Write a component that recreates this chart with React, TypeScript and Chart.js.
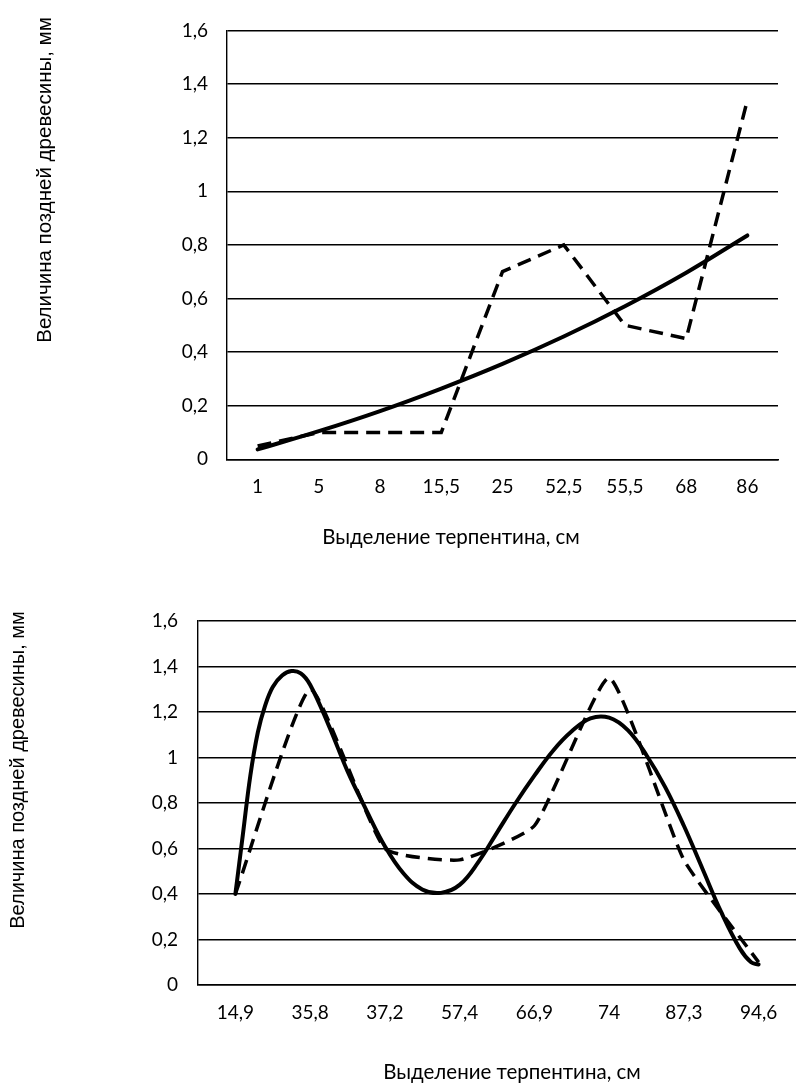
import React, { useEffect, useRef } from "react";
import { Chart, registerables } from "chart.js";

Chart.register(...registerables);

// ---------- data ----------
const topCategories = ["1", "5", "8", "15,5", "25", "52,5", "55,5", "68", "86"];
const topDashed = [0.05, 0.1, 0.1, 0.1, 0.7, 0.8, 0.5, 0.45, 1.34];
const topSolid = [0.037, 0.105, 0.18, 0.264, 0.356, 0.458, 0.571, 0.696, 0.835];

const bottomCategories = ["14,9", "35,8", "37,2", "57,4", "66,9", "74", "87,3", "94,6"];
const bottomDashed = [0.4, 1.3, 0.6, 0.55, 0.7, 1.35, 0.55, 0.1];
// solid curve sampled along the category axis (index positions)
const bottomSolidX = [0, 0.1, 0.2, 0.3, 0.4, 0.5, 0.625, 0.75, 0.875, 1, 1.25, 1.5, 1.75, 2, 2.25, 2.5, 2.75, 3, 3.25, 3.5, 3.75, 4, 4.25, 4.5, 4.75, 5, 5.25, 5.5, 5.75, 6, 6.25, 6.5, 6.75, 6.9, 7];
const bottomSolidY = [0.4, 0.66, 0.92, 1.11, 1.23, 1.31, 1.36, 1.38, 1.37, 1.32, 1.14, 0.94, 0.77, 0.61, 0.49, 0.42, 0.405, 0.44, 0.54, 0.67, 0.8, 0.92, 1.03, 1.115, 1.172, 1.175, 1.12, 1.01, 0.87, 0.7, 0.51, 0.32, 0.16, 0.1, 0.09];

const yTickValues = [0, 0.2, 0.4, 0.6, 0.8, 1, 1.2, 1.4, 1.6];

const yAxisTitle = "Величина поздней древесины, мм";
const xAxisTitle = "Выделение терпентина, см";

// ---------- helpers ----------
const fmt = (v: number) => String(Math.round(v * 10) / 10).replace(".", ",");
const TICK_FONT = { family: "Lato", size: 19 };

const freeTextPlugin = {
  id: "freeText",
  afterDraw(chart: any, _args: any, opts: any) {
    const ctx = chart.ctx as CanvasRenderingContext2D;
    (opts.items || []).forEach((t: any) => {
      ctx.save();
      ctx.translate(t.x, t.y);
      if (t.rotate) ctx.rotate(t.rotate);
      ctx.font = t.font;
      ctx.fillStyle = "#000";
      ctx.textAlign = "center";
      ctx.textBaseline = "middle";
      ctx.fillText(t.text, 0, 0);
      ctx.restore();
    });
  },
};

function yScale(width: number, padding: number) {
  return {
    min: 0,
    max: 1.6,
    afterBuildTicks: (s: any) => {
      s.ticks = yTickValues.map((v) => ({ value: v }));
    },
    afterFit: (s: any) => {
      s.width = width;
    },
    grid: { color: "#000", lineWidth: 1.4, drawTicks: false },
    border: { display: true, color: "#000", width: 1.4 },
    ticks: {
      padding,
      color: "#000",
      font: TICK_FONT,
      callback: (v: any) => fmt(Number(v)),
    },
  };
}

const DASH = [14, 8];

function TopChart() {
  const ref = useRef<HTMLCanvasElement | null>(null);
  useEffect(() => {
    if (!ref.current) return;
    const chart = new Chart(ref.current, {
      type: "line",
      data: {
        labels: topCategories,
        datasets: [
          {
            data: topDashed,
            borderColor: "#000",
            borderWidth: 3.5,
            borderDash: DASH,
            pointRadius: 0,
            tension: 0,
            fill: false,
          },
          {
            data: topSolid,
            borderColor: "#000",
            borderWidth: 4,
            pointRadius: 0,
            tension: 0.4,
            borderCapStyle: "round",
            borderJoinStyle: "round",
            fill: false,
          },
        ],
      },
      options: {
        animation: false,
        responsive: false,
        maintainAspectRatio: false,
        devicePixelRatio: 1,
        layout: { padding: { left: 0, right: 18, top: 29, bottom: 0 } },
        plugins: {
          legend: { display: false },
          tooltip: { enabled: false },
          freeText: {
            items: [
              { text: yAxisTitle, x: 45, y: 180, rotate: -Math.PI / 2, font: "20.5px 'Liberation Sans'" },
              { text: xAxisTitle, x: 451, y: 537, font: "20.5px Lato" },
            ],
          },
        } as any,
        scales: {
          x: {
            type: "category",
            offset: true,
            afterFit: (s: any) => {
              s.height = 100.7;
            },
            grid: { display: false, drawTicks: false },
            border: { display: true, color: "#000", width: 1.4 },
            ticks: { padding: 16, color: "#000", font: TICK_FONT, autoSkip: false, maxRotation: 0 },
          },
          y: yScale(227, 19) as any,
        },
      },
      plugins: [freeTextPlugin],
    });
    return () => chart.destroy();
  }, []);
  return <canvas ref={ref} width={796} height={560} style={{ position: "absolute", left: 0, top: 0, width: 796, height: 560 }} />;
}

function BottomChart() {
  const ref = useRef<HTMLCanvasElement | null>(null);
  useEffect(() => {
    if (!ref.current) return;
    const chart = new Chart(ref.current, {
      type: "line",
      data: {
        datasets: [
          {
            data: bottomDashed.map((y, i) => ({ x: i, y })),
            borderColor: "#000",
            borderWidth: 3.5,
            borderDash: DASH,
            pointRadius: 0,
            tension: 0.15,
            fill: false,
          },
          {
            data: bottomSolidX.map((x, i) => ({ x, y: bottomSolidY[i] })),
            borderColor: "#000",
            borderWidth: 4,
            pointRadius: 0,
            tension: 0.4,
            borderCapStyle: "round",
            borderJoinStyle: "round",
            fill: false,
          },
        ],
      },
      options: {
        animation: false,
        responsive: false,
        maintainAspectRatio: false,
        devicePixelRatio: 1,
        layout: { padding: { left: 0, right: 0, top: 61, bottom: 0 } },
        plugins: {
          legend: { display: false },
          tooltip: { enabled: false },
          freeText: {
            items: [
              { text: yAxisTitle, x: 18, y: 210, rotate: -Math.PI / 2, font: "20px 'Liberation Sans'" },
              { text: xAxisTitle, x: 512, y: 512, font: "20.5px Lato" },
            ],
          },
        } as any,
        scales: {
          x: {
            type: "linear",
            min: -0.5,
            max: 7.5,
            afterBuildTicks: (s: any) => {
              s.ticks = bottomCategories.map((_, i) => ({ value: i }));
            },
            afterFit: (s: any) => {
              s.height = 98;
            },
            grid: { display: false, drawTicks: false },
            border: { display: true, color: "#000", width: 1.4 },
            ticks: {
              padding: 16,
              color: "#000",
              font: TICK_FONT,
              autoSkip: false,
              maxRotation: 0,
              callback: (v: any) => bottomCategories[Number(v)] ?? "",
            },
          },
          y: yScale(198, 20) as any,
        },
      },
      plugins: [freeTextPlugin],
    });
    return () => chart.destroy();
  }, []);
  return <canvas ref={ref} width={796} height={523} style={{ position: "absolute", left: 0, top: 560, width: 796, height: 523 }} />;
}

export default function App() {
  return (
    <div style={{ position: "absolute", left: 0, top: 0, width: 796, height: 1083, overflow: "hidden", background: "#fff" }}>
      <TopChart />
      <BottomChart />
    </div>
  );
}
